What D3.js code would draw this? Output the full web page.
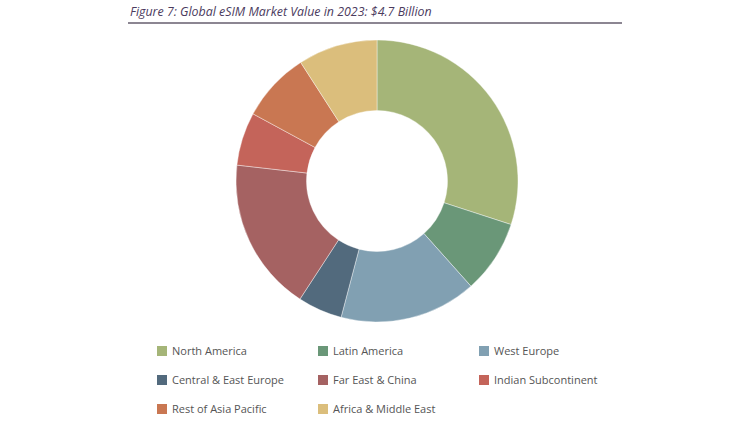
<!DOCTYPE html>
<html><head><meta charset="utf-8">
<script src="https://cdn.jsdelivr.net/npm/d3@7"></script>
<style>body{margin:0;background:#fff;}svg{display:block;}</style>
</head><body>
<svg id="c" width="753" height="424"></svg>
<script>
const title = "Figure 7: Global eSIM Market Value in 2023: $4.7 Billion";
const categories = ["North America","Latin America","West Europe","Central & East Europe","Far East & China","Indian Subcontinent","Rest of Asia Pacific","Africa & Middle East"];
const shares = [30.0, 8.4, 15.7, 5.1, 17.6, 6.1, 8.0, 9.1];
const colors = ["#a5b578","#6a9778","#81a0b2","#526a7d","#a56262","#c4645a","#c97752","#dbbe7c"];

const svg = d3.select("#c");
svg.append("text").attr("x",130).attr("y",16)
  .attr("font-family","'Open Sans', sans-serif").attr("font-style","italic")
  .attr("font-size",12.4).attr("fill","#4b3b5e").text(title);
svg.append("line").attr("x1",128).attr("x2",622).attr("y1",23).attr("y2",23)
  .attr("stroke","#8c8692").attr("stroke-width",2);

const data = categories.map((c,i)=>({c, v:shares[i], col:colors[i]}));
const pie = d3.pie().value(d=>d.v).sort(null);
const arc = d3.arc().innerRadius(70.5).outerRadius(141);
const g = svg.append("g").attr("transform","translate(377,181)");
g.selectAll("path").data(pie(data)).join("path")
  .attr("d",arc).attr("fill",d=>d.data.col)
  .attr("stroke","#fff").attr("stroke-width",0.4);

const colX = [157,318,479], rowY = [351,380,409];
const lg = svg.append("g");
data.forEach((d,i)=>{
  const x = colX[i%3], y = rowY[Math.floor(i/3)];
  lg.append("rect").attr("x",x).attr("y",y-5).attr("width",10).attr("height",10).attr("fill",d.col);
  lg.append("text").attr("x",x+15).attr("y",y+4)
    .attr("font-family","'Open Sans', sans-serif").attr("font-size",11)
    .attr("fill","#555").text(d.c);
});
</script>
</body></html>
